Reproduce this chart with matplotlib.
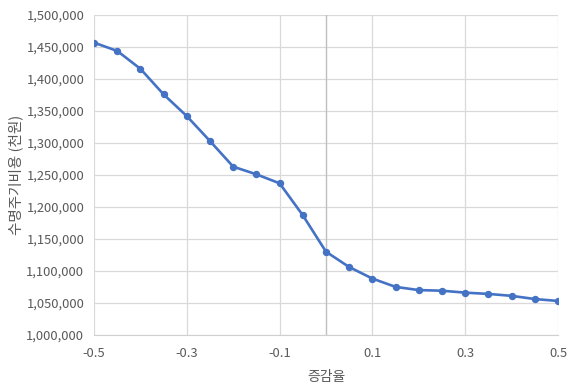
import numpy as np
import matplotlib
matplotlib.use('Agg')
import matplotlib.pyplot as plt
import matplotlib.ticker as mtick

plt.rcParams['font.family'] = ['Noto Sans CJK KR', 'DejaVu Sans']

# rate of change vs life-cycle cost (thousand won)
rate = [-0.5, -0.45, -0.4, -0.35, -0.3, -0.25, -0.2, -0.15, -0.1, -0.05, 0.0,
        0.05, 0.1, 0.15, 0.2, 0.25, 0.3, 0.35, 0.4, 0.45, 0.5]
lcc = [1457000, 1444000, 1416000, 1376000, 1342000, 1303000, 1263000, 1251000,
       1237000, 1187000, 1130000, 1106000, 1088000, 1075000, 1070000, 1069000,
       1066000, 1064000, 1061000, 1056000, 1053000]
xticks = [-0.5, -0.3, -0.1, 0.1, 0.3, 0.5]

fig = plt.figure(figsize=(5.77, 3.88), dpi=100)
ax = fig.add_axes([0.163, 0.137, 0.804, 0.824])

ax.plot(rate, lcc, color='#4472C4', lw=1.9, marker='o', ms=4.3, zorder=3)

ax.set_xlim(-0.5, 0.5)
ax.set_ylim(1000000, 1500000)
ax.set_xticks(xticks)
ax.set_xticklabels(['%.1f' % v for v in xticks])
ax.set_yticks(np.arange(1000000, 1500001, 50000))
ax.yaxis.set_major_formatter(mtick.StrMethodFormatter('{x:,.0f}'))

ax.grid(True, color='#d9d9d9', lw=0.9)
ax.axvline(0, color='#bfbfbf', lw=1.0, zorder=2)
for s in ['top', 'right', 'left']:
    ax.spines[s].set_visible(False)
ax.spines['bottom'].set_color('#d0d0d0')
ax.tick_params(length=0, labelsize=9.3, colors='#595959', pad=9)
ax.tick_params(axis='y', pad=7)

ax.set_xlabel('증감율', fontsize=10, color='#595959', labelpad=7)
ax.set_ylabel('수명주기비용 (천원)', fontsize=10.5, color='#595959', labelpad=2)

fig.savefig('out.png', dpi=100)
